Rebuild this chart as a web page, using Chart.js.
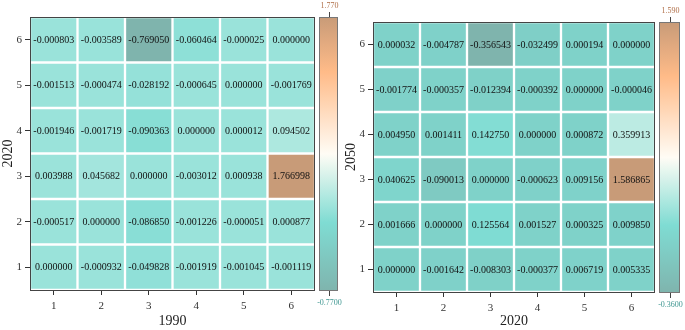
<!DOCTYPE html>
<html>
<head>
<meta charset="utf-8">
<script src="https://cdn.jsdelivr.net/npm/chart.js@4"></script>
<style>
  html, body { margin: 0; padding: 0; background: #fff; }
  .panel { position: absolute; top: 0; height: 330px; }
  #leftBox { left: 0; width: 342px; }
  #rightBox { left: 343px; width: 342px; }
</style>
</head>
<body>
<div class="panel" id="leftBox"><canvas id="leftChart"></canvas></div>
<div class="panel" id="rightBox"><canvas id="rightChart"></canvas></div>
<script>
// Categories (columns on x, rows on y)
const xCats = ['1', '2', '3', '4', '5', '6'];
const yRows = [1, 2, 3, 4, 5, 6];

// Left panel: 1990 (x) vs 2020 (y), rows listed bottom (1) to top (6)
const left1 = [0.000000, -0.000932, -0.049828, -0.001919, -0.001045, -0.001119];
const left2 = [-0.000517, 0.000000, -0.086850, -0.001226, -0.000051, 0.000877];
const left3 = [0.003988, 0.045682, 0.000000, -0.003012, 0.000938, 1.766998];
const left4 = [-0.001946, -0.001719, -0.090363, 0.000000, 0.000012, 0.094502];
const left5 = [-0.001513, -0.000474, -0.028192, -0.000645, 0.000000, -0.001769];
const left6 = [-0.000803, -0.003589, -0.769050, -0.060464, -0.000025, 0.000000];
const leftRange = [-0.77, 1.77];
const leftRangeLabels = ['-0.7700', '1.770'];

// Right panel: 2020 (x) vs 2050 (y)
const right1 = [0.000000, -0.001642, -0.008303, -0.000377, 0.006719, 0.005335];
const right2 = [0.001666, 0.000000, 0.125564, 0.001527, 0.000325, 0.009850];
const right3 = [0.040625, -0.090013, 0.000000, -0.000623, 0.009156, 1.586865];
const right4 = [0.004950, 0.001411, 0.142750, 0.000000, 0.000872, 0.359913];
const right5 = [-0.001774, -0.000357, -0.012394, -0.000392, 0.000000, -0.000046];
const right6 = [0.000032, -0.004787, -0.356543, -0.032499, 0.000194, 0.000000];
const rightRange = [-0.36, 1.59];
const rightRangeLabels = ['-0.3600', '1.590'];

// colour ramp: grey-teal -> turquoise -> white -> orange -> tan
const rampStops = [
  [0.00, [127, 180, 173]],
  [0.25, [127, 220, 211]],
  [0.50, [255, 252, 245]],
  [0.80, [255, 187, 136]],
  [1.00, [200, 155, 120]]
];

function rampColor(t) {
  t = Math.max(0, Math.min(1, t));
  for (let i = 1; i < rampStops.length; i++) {
    const [t1, c1] = rampStops[i];
    const [t0, c0] = rampStops[i - 1];
    if (t <= t1) {
      const f = (t - t0) / (t1 - t0);
      const c = c0.map((v, k) => Math.round(v + f * (c1[k] - v)));
      return `rgb(${c[0]}, ${c[1]}, ${c[2]})`;
    }
  }
  const c = rampStops[rampStops.length - 1][1];
  return `rgb(${c[0]}, ${c[1]}, ${c[2]})`;
}

const serif = "'Liberation Serif', 'DejaVu Serif', serif";

// draws frame, cell values and the colour bar
const heatPlugin = {
  id: 'heatPlugin',
  afterDatasetsDraw(chart) {
    const ctx = chart.ctx;
    const area = chart.chartArea;
    ctx.save();
    ctx.font = `10px ${serif}`;
    ctx.fillStyle = '#111';
    ctx.textAlign = 'center';
    ctx.textBaseline = 'middle';
    chart.data.datasets.forEach((ds, di) => {
      const meta = chart.getDatasetMeta(di);
      meta.data.forEach((bar, i) => {
        const p = bar.getProps(['x', 'y', 'base'], true);
        ctx.fillText(ds.values[i].toFixed(6), p.x, (p.y + p.base) / 2 + 0.5);
      });
    });
    ctx.strokeStyle = '#444';
    ctx.lineWidth = 1;
    ctx.strokeRect(area.left + 0.5, area.top + 0.5, area.right - area.left - 1, area.bottom - area.top);
    ctx.restore();
  },
  afterDraw(chart) {
    const opts = chart.options.plugins.heatPlugin;
    const ctx = chart.ctx;
    const area = chart.chartArea;
    const x0 = area.right + opts.gap;
    const w = opts.width;
    const top = area.top;
    const bottom = area.bottom + 1;
    ctx.save();
    const grad = ctx.createLinearGradient(0, bottom, 0, top);
    for (let i = 0; i <= 40; i++) grad.addColorStop(i / 40, rampColor(i / 40));
    ctx.fillStyle = grad;
    ctx.fillRect(x0, top, w, bottom - top);
    ctx.strokeStyle = '#777';
    ctx.lineWidth = 1;
    ctx.strokeRect(x0 + 0.5, top + 0.5, w - 1, bottom - top - 1);
    const cx = Math.round(x0 + w / 2) + 0.5;
    ctx.strokeStyle = '#444';
    ctx.beginPath();
    ctx.moveTo(cx, top - 5); ctx.lineTo(cx, top);
    ctx.moveTo(cx, bottom); ctx.lineTo(cx, bottom + 5);
    ctx.stroke();
    ctx.font = `8px ${serif}`;
    ctx.textAlign = 'center';
    ctx.textBaseline = 'middle';
    ctx.fillStyle = '#b06f48';
    ctx.fillText(opts.labels[1], cx, top - 11);
    ctx.fillStyle = '#3d9690';
    ctx.fillText(opts.labels[0], cx, bottom + 12);
    ctx.restore();
  }
};

function makeHeatmap(canvasId, rowArrays, range, rangeLabels, xTitle, yTitle, pad, xAxisHeight) {
  const datasets = rowArrays.map((vals, r) => ({
    values: vals,
    data: xCats.map(() => [yRows[r] - 0.5, yRows[r] + 0.5]),
    backgroundColor: vals.map(v => rampColor((v - range[0]) / (range[1] - range[0]))),
    borderColor: '#ffffff',
    borderWidth: 1.5,
    borderSkipped: false,
    barPercentage: 1,
    categoryPercentage: 1,
    grouped: false
  }));

  return new Chart(document.getElementById(canvasId), {
    type: 'bar',
    data: { labels: xCats, datasets: datasets },
    options: {
      responsive: true,
      maintainAspectRatio: false,
      animation: false,
      layout: { padding: { left: 0, top: pad.top, right: pad.right, bottom: 0 } },
      plugins: {
        legend: { display: false },
        tooltip: { enabled: false },
        heatPlugin: { gap: pad.gap, width: pad.barWidth, labels: rangeLabels }
      },
      scales: {
        x: {
          grid: { display: true, drawOnChartArea: false, drawTicks: true, tickLength: 5, color: '#333', offset: false },
          border: { display: false },
          ticks: { font: { family: serif, size: 11 }, color: '#333', padding: 5, maxRotation: 0 },
          title: { display: true, text: xTitle, font: { family: serif, size: 14 }, color: '#222', padding: 0 },
          afterFit: function(scale) { scale.height = xAxisHeight; }
        },
        y: {
          type: 'linear',
          min: 0.5,
          max: 6.5,
          afterBuildTicks: function(scale) { scale.ticks = yRows.map(v => ({ value: v })); },
          grid: { display: true, drawOnChartArea: false, drawTicks: true, tickLength: 5, color: '#333' },
          border: { display: false },
          ticks: { font: { family: serif, size: 11 }, color: '#333', padding: 3 },
          title: { display: true, text: yTitle, font: { family: serif, size: 14 }, color: '#222', padding: 0 },
          afterFit: function(scale) { scale.width = 30; }
        }
      }
    },
    plugins: [heatPlugin]
  });
}

makeHeatmap('leftChart', [left1, left2, left3, left4, left5, left6], leftRange, leftRangeLabels,
  '1990', '2020', { top: 17, right: 27, gap: 4, barWidth: 19 }, 40);
makeHeatmap('rightChart', [right1, right2, right3, right4, right5, right6], rightRange, rightRangeLabels,
  '2020', '2050', { top: 22, right: 30, gap: 4, barWidth: 21 }, 38);
</script>
</body>
</html>
